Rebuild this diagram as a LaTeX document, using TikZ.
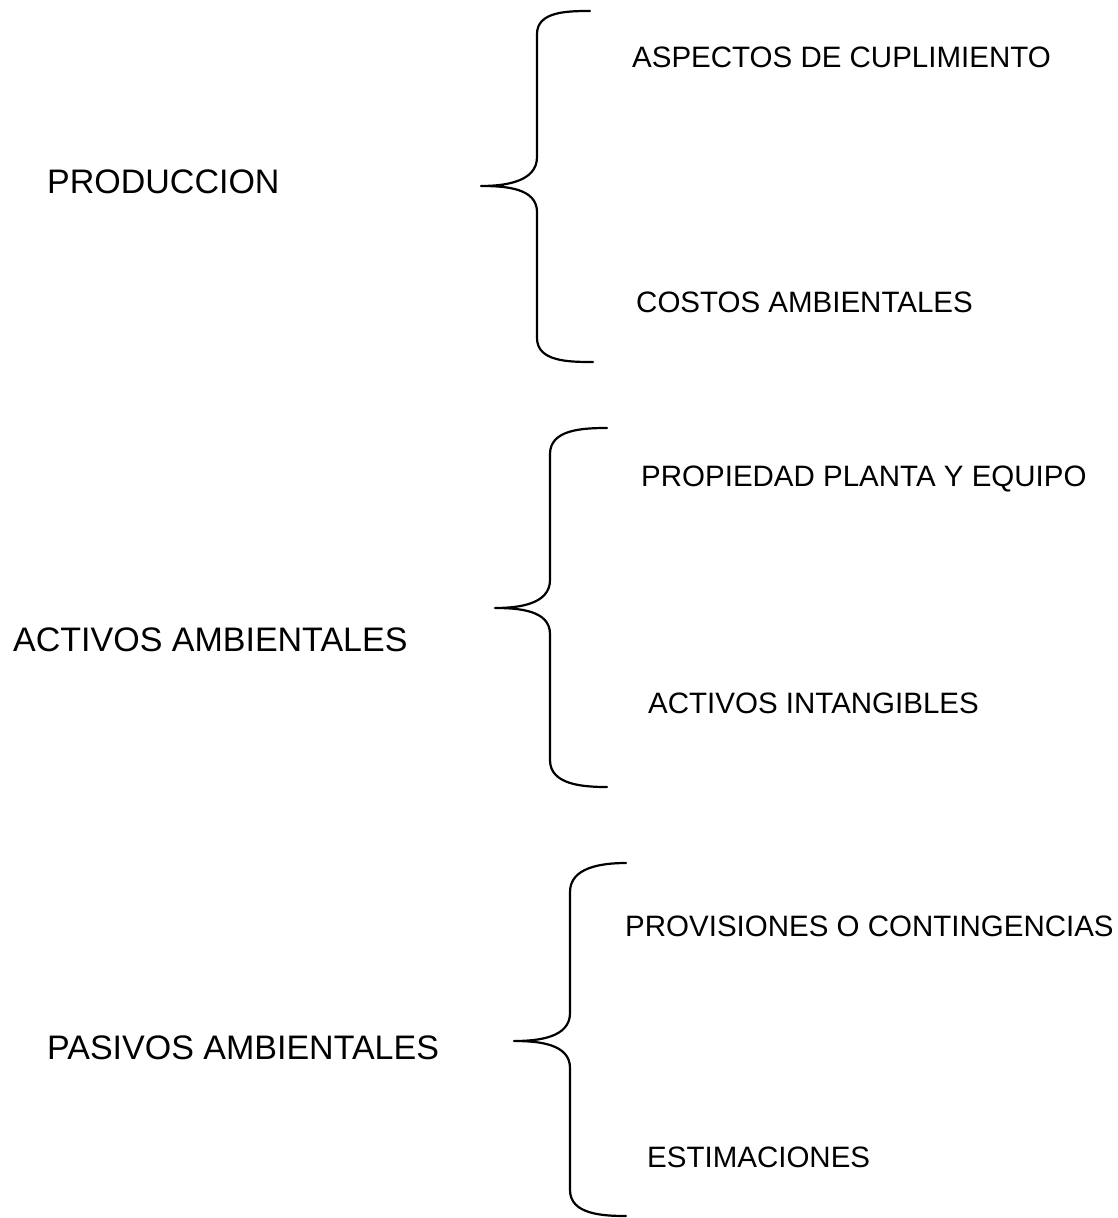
\documentclass[tikz,border=0pt]{standalone}
\usepackage{fontspec}
\setmainfont{Liberation Sans}
\begin{document}
\begin{tikzpicture}[x=1pt,y=-1pt,
  bigtxt/.style={anchor=base west,inner sep=0pt,font=\fontsize{34}{40}\selectfont},
  smalltxt/.style={anchor=base west,inner sep=0pt,font=\fontsize{29.5}{35}\selectfont},
  bracepath/.style={line width=2.2pt,line cap=round,line join=round}]
\useasboundingbox (0,0) rectangle (1118,1218);
% left labels
\node[bigtxt] (prod) at (47,193) {PRODUCCION};
\node[bigtxt] (act) at (13,651) {ACTIVOS AMBIENTALES};
\node[bigtxt] (pas) at (47,1059) {PASIVOS AMBIENTALES};
% right labels
\node[smalltxt] (asp) at (632,67) {ASPECTOS DE CUPLIMIENTO};
\node[smalltxt] (cos) at (636,312) {COSTOS AMBIENTALES};
\node[smalltxt] (ppe) at (641,486) {PROPIEDAD PLANTA Y EQUIPO};
\node[smalltxt] (ain) at (648,713) {ACTIVOS INTANGIBLES};
\node[smalltxt] (prv) at (625,936) {PROVISIONES O CONTINGENCIAS};
\node[smalltxt] (est) at (647,1167) {ESTIMACIONES};
% braces
\draw[bracepath] (590,11) to[out=180,in=90] (537,34) -- (537,157)
  to[out=-90,in=0] (481,186) to[out=0,in=90] (537,212) -- (537,338)
  to[out=-90,in=180] (593,362);
\draw[bracepath] (607,428) to[out=180,in=90] (550,454) -- (550,580)
  to[out=-90,in=0] (495,608) to[out=0,in=90] (550,634) -- (550,760)
  to[out=-90,in=180] (607,787);
\draw[bracepath] (626,863) to[out=180,in=90] (570,892) -- (570,1013)
  to[out=-90,in=0] (514,1041) to[out=0,in=90] (570,1068) -- (570,1190)
  to[out=-90,in=180] (626,1216);
\end{tikzpicture}
\end{document}
